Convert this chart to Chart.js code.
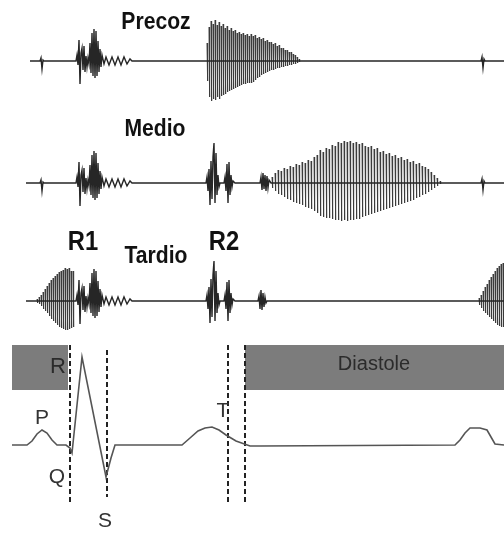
<!DOCTYPE html>
<html>
<head>
<meta charset="utf-8">
<script src="https://cdn.jsdelivr.net/npm/chart.js@4/dist/chart.umd.min.js"></script>
<style>
  html, body { margin: 0; padding: 0; background: #fff; }
  canvas { display: block; }
</style>
</head>
<body>
<canvas id="c" width="504" height="533"></canvas>
<script>
// Soplos: precoz / medio / tardio + ECG debajo
// unidades: x = tiempo (0..504), y = posicion vertical (0 arriba)

// baselines de cada trazo
const BASE_PRECOZ = 61;
const BASE_MEDIO = 183;
const BASE_TARDIO = 301;
const BASE_ECG = 445;

// pequeños artefactos [x, dy]
const BLIP_LEFT = [[40, 0], [41, 3], [42, -8], [43, 1], [44, 0]];
const BLIP_RIGHT = [[481, 0], [482, 4], [483, -7], [484, 2], [485, 0]];

// primer ruido R1 [x, dy]
const S1 = [[76, 0], [77, 6], [78, -4], [79, 21], [80, -23], [81, 8], [82, 13], [83, -9], [84, 15], [85, -11],
  [86, 5], [87, -6], [88, 3], [89, -3], [90, 18], [91, -12], [92, 28], [93, -15], [94, 32], [95, -17],
  [96, 30], [97, -15], [98, 20], [99, -11], [100, 12], [101, -6], [102, 6], [104, -3], [106, 4], [109, -4],
  [112, 4], [115, -4], [118, 4], [121, -4], [124, 4], [127, -3], [130, 2], [132, 0]];

// segundo ruido R2 [x, dy]
const S2 = [[206, 0], [207, 6], [208, -8], [209, 14], [210, -22], [211, 22], [212, -16], [213, 26], [214, 40],
  [215, -20], [216, 30], [217, -12], [218, 8], [219, -4], [220, 0], [224, 0], [225, 6], [226, -8], [227, 19],
  [228, -20], [229, 21], [230, -12], [231, 8], [232, -4], [233, 2], [235, 0]];

// chasquido tras R2 [x, dy]
const SNAP_MEDIO = [[260, 0], [261, 6], [262, -7], [263, 10], [264, -6], [265, 8], [266, -8], [267, 7], [268, -5], [269, 3], [271, 0]];
const SNAP_TARDIO = [[258, 0], [259, 5], [260, -8], [261, 11], [262, -9], [263, 8], [264, -6], [265, 4], [266, -2], [267, 0]];

// soplos: [x, arriba, abajo]
const MURMUR_PRECOZ = [[207, 18, 20], [209, 34, 36], [211, 40, 40], [213, 37, 38], [215, 41, 39], [217, 36, 36],
  [219, 39, 38], [221, 35, 35], [223, 37, 34], [225, 33, 33], [227, 35, 31], [229, 31, 30], [231, 33, 29],
  [233, 30, 28], [235, 31, 27], [237, 28, 26], [239, 29, 25], [241, 27, 24], [243, 28, 23], [245, 26, 23],
  [247, 27, 22], [249, 25, 22], [251, 27, 22], [253, 25, 21], [255, 26, 19], [257, 23, 17], [259, 24, 16],
  [261, 22, 14], [263, 23, 13], [265, 20, 12], [267, 21, 11], [269, 19, 10], [271, 19, 9], [273, 17, 9],
  [275, 18, 8], [277, 15, 7], [279, 16, 7], [281, 13, 6], [283, 13, 6], [285, 11, 5], [287, 11, 5],
  [289, 9, 4], [291, 9, 4], [293, 7, 3], [295, 6, 3], [297, 4, 2], [299, 2, 1]];

const MURMUR_MEDIO = [[272, 6, 5], [275, 10, 8], [278, 13, 11], [281, 12, 12], [284, 15, 14], [287, 14, 16],
  [290, 17, 17], [293, 16, 19], [296, 19, 20], [299, 18, 21], [302, 21, 22], [305, 20, 24], [308, 23, 25],
  [311, 22, 26], [314, 26, 28], [317, 28, 30], [320, 33, 33], [323, 31, 34], [326, 35, 35], [329, 34, 35],
  [332, 38, 36], [335, 37, 37], [338, 41, 37], [341, 40, 38], [344, 42, 37], [347, 41, 38], [350, 42, 37],
  [353, 40, 37], [356, 41, 36], [359, 39, 36], [362, 40, 34], [365, 37, 33], [368, 36, 32], [371, 37, 31],
  [374, 34, 30], [377, 35, 29], [380, 31, 28], [383, 32, 27], [386, 29, 26], [389, 30, 25], [392, 27, 24],
  [395, 28, 23], [398, 25, 22], [401, 26, 21], [404, 23, 20], [407, 24, 19], [410, 21, 18], [413, 22, 17],
  [416, 19, 15], [419, 20, 14], [422, 17, 12], [425, 16, 11], [428, 14, 9], [431, 11, 7], [434, 8, 5],
  [437, 5, 3], [440, 2, 1]];

const MURMUR_TARDIO_PRE = [[37, 2, 2], [39, 4, 3], [41, 6, 5], [43, 9, 8], [45, 12, 10], [47, 15, 12],
  [49, 18, 15], [51, 21, 18], [53, 23, 20], [55, 25, 22], [57, 27, 24], [59, 29, 26], [61, 30, 27],
  [63, 31, 28], [65, 33, 29], [67, 32, 29], [69, 33, 28], [71, 30, 27], [73, 30, 26]];

const MURMUR_TARDIO_END = [[479, 3, 4], [481, 6, 7], [483, 10, 10], [485, 14, 12], [487, 17, 14], [489, 21, 16],
  [491, 24, 18], [493, 27, 20], [495, 30, 22], [497, 33, 24], [499, 35, 25], [501, 37, 26], [503, 38, 26]];

// ECG [x, dy]
const ECG = [[12, 0], [27, 0], [32, 4], [37, 11], [42, 15], [47, 12], [52, 5], [57, 0], [66, 0], [70, -3],
  [72, -8], [82, 88], [106, -32], [111, -13], [115, 0], [182, 0], [190, 7], [198, 14], [205, 17], [212, 18],
  [219, 15], [226, 10], [236, 4], [250, -1], [260, -1], [455, 0], [460, 5], [465, 12], [470, 17], [480, 17],
  [487, 15], [491, 8], [495, 1], [504, 0]];

// lineas discontinuas: x, desde, hasta
const DASH_X = [70, 107, 228, 245];
const DASH_FROM = [345, 350, 345, 345];
const DASH_TO = [505, 497, 505, 505];

// bandas grises: inicio, fin, texto
const BAND_START = [12, 245];
const BAND_END = [68, 504];
const BAND_TEXT = ['R', 'Diastole'];
const BAND_TOP = 345;
const BAND_BOTTOM = 390;

// rotulos en negrita
const TITLE_TEXT = ['Precoz', 'Medio', 'R1', 'Tardio', 'R2'];
const TITLE_X = [156, 155, 83, 156, 224];
const TITLE_Y = [22, 129, 243, 256, 243];
const TITLE_SIZE = [24, 24, 27, 24, 27];

// ondas del ECG
const WAVE_TEXT = ['P', 'Q', 'S', 'T'];
const WAVE_X = [42, 57, 105, 223];
const WAVE_Y = [418, 477, 521, 411];

function toPoints(base, pairs) {
    return pairs.map(([x, dy]) => ({ x: x, y: base - dy }));
}

// cada soplo como trazos verticales sueltos (corte con y:null)
function strokes(base, list) {
    const out = [];
    list.forEach(([x, up, down]) => {
        out.push({ x: x, y: base - up }, { x: x + 0.6, y: base + down }, { x: x + 0.6, y: null });
    });
    return out;
}

const tracePrecoz = [[30, 0], ...BLIP_LEFT, ...S1, [504, 0]];
const tracePrecozEnd = [...BLIP_RIGHT];
const traceMedio = [[26, 0], ...BLIP_LEFT, ...S1, ...S2, ...SNAP_MEDIO, ...BLIP_RIGHT, [504, 0]];
const traceTardio = [[26, 0], ...S1, ...S2, ...SNAP_TARDIO, [504, 0]];

const traceStyle = { showLine: true, borderColor: '#262626', borderWidth: 1.4, pointRadius: 0, tension: 0, spanGaps: false };
const murmurStyle = { showLine: true, borderColor: '#3c3c3c', borderWidth: 1, pointRadius: 0, tension: 0, spanGaps: false };

const datasets = [
    { ...traceStyle, data: toPoints(BASE_PRECOZ, tracePrecoz) },
    { ...traceStyle, data: toPoints(BASE_PRECOZ, tracePrecozEnd) },
    { ...traceStyle, data: toPoints(BASE_MEDIO, traceMedio) },
    { ...traceStyle, data: toPoints(BASE_TARDIO, traceTardio) },
    { ...murmurStyle, data: strokes(BASE_PRECOZ, MURMUR_PRECOZ) },
    { ...murmurStyle, data: strokes(BASE_MEDIO, MURMUR_MEDIO) },
    { ...murmurStyle, data: strokes(BASE_TARDIO, MURMUR_TARDIO_PRE) },
    { ...murmurStyle, data: strokes(BASE_TARDIO, MURMUR_TARDIO_END) },
    { showLine: true, borderColor: '#555', borderWidth: 1.6, pointRadius: 0, tension: 0, data: toPoints(BASE_ECG, ECG) }
];

DASH_X.forEach((x, i) => {
    datasets.push({
        showLine: true, borderColor: '#222', borderWidth: 2, borderDash: [5, 3], pointRadius: 0,
        data: [{ x: x, y: DASH_FROM[i] }, { x: x, y: DASH_TO[i] }]
    });
});

const bandPlugin = {
    id: 'bands',
    beforeDatasetsDraw(chart) {
        const { ctx, scales: { x, y } } = chart;
        ctx.save();
        BAND_START.forEach((s, i) => {
            const x0 = x.getPixelForValue(s), x1 = x.getPixelForValue(BAND_END[i]);
            const y0 = y.getPixelForValue(BAND_TOP), y1 = y.getPixelForValue(BAND_BOTTOM);
            ctx.fillStyle = '#7c7c7c';
            ctx.fillRect(x0, y0, x1 - x0, y1 - y0);
        });
        ctx.fillStyle = '#2b2b2b';
        ctx.textBaseline = 'middle';
        ctx.font = '22px "Liberation Sans", Arial, sans-serif';
        ctx.textAlign = 'right';
        ctx.fillText(BAND_TEXT[0], x.getPixelForValue(66), y.getPixelForValue(367));
        ctx.font = '20px "Liberation Sans", Arial, sans-serif';
        ctx.textAlign = 'center';
        ctx.fillText(BAND_TEXT[1], x.getPixelForValue(374), y.getPixelForValue(364));
        ctx.restore();
    },
    afterDatasetsDraw(chart) {
        const { ctx, scales: { x, y } } = chart;
        ctx.save();
        ctx.textAlign = 'center';
        ctx.textBaseline = 'middle';
        ctx.fillStyle = '#111';
        TITLE_TEXT.forEach((t, i) => {
            ctx.save();
            ctx.translate(x.getPixelForValue(TITLE_X[i]), y.getPixelForValue(TITLE_Y[i]));
            ctx.scale(0.88, 1);
            ctx.font = 'bold ' + TITLE_SIZE[i] + 'px "Liberation Sans", Arial, sans-serif';
            ctx.fillText(t, 0, 0);
            ctx.restore();
        });
        ctx.fillStyle = '#333';
        ctx.font = '21px "Liberation Sans", Arial, sans-serif';
        WAVE_TEXT.forEach((t, i) => {
            ctx.fillText(t, x.getPixelForValue(WAVE_X[i]), y.getPixelForValue(WAVE_Y[i]));
        });
        ctx.restore();
    }
};

new Chart(document.getElementById('c'), {
    type: 'scatter',
    data: { datasets },
    options: {
        responsive: false,
        animation: false,
        events: [],
        layout: { padding: 0 },
        plugins: { legend: { display: false }, tooltip: { enabled: false } },
        scales: {
            x: { type: 'linear', min: 0, max: 504, display: false },
            y: { type: 'linear', min: 0, max: 533, reverse: true, display: false }
        }
    },
    plugins: [bandPlugin]
});
</script>
</body>
</html>
